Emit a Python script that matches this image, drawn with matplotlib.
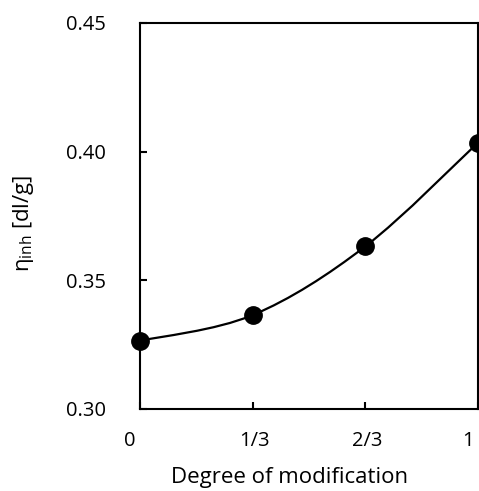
import numpy as np
import matplotlib
matplotlib.use("Agg")
import matplotlib.pyplot as plt
from matplotlib.path import Path
from matplotlib.patches import PathPatch
from matplotlib.transforms import ScaledTranslation

plt.rcParams['font.family'] = ['Open Sans', 'DejaVu Sans']
plt.rcParams['mathtext.fontset'] = 'custom'
plt.rcParams['mathtext.rm'] = 'Open Sans'
plt.rcParams['mathtext.it'] = 'Open Sans'

degree = [0, 1/3, 2/3, 1]
degree_labels = ["0", "1/3", "2/3", "1"]
eta_inh = [0.3265, 0.3365, 0.3632, 0.4035]
y_ticks = [0.30, 0.35, 0.40, 0.45]


def smooth_path(x, y):
    # excel-like smoothed line: catmull-rom turned into cubic bezier segments
    pts = np.column_stack([x, y])
    p = np.vstack([pts[0], pts, pts[-1]])
    verts = [pts[0]]
    codes = [Path.MOVETO]
    for i in range(1, len(p) - 2):
        c1 = p[i] + (p[i + 1] - p[i - 1]) / 6
        c2 = p[i + 1] - (p[i + 2] - p[i]) / 6
        verts += [c1, c2, p[i + 1]]
        codes += [Path.CURVE4] * 3
    return Path(verts, codes)


fig = plt.figure(figsize=(4.79, 4.91), dpi=100)
ax = fig.add_axes([140/479, 82/491, 338/479, 386/491])

ax.add_patch(PathPatch(smooth_path(degree, eta_inh), facecolor="none",
                       edgecolor="black", lw=1.6, zorder=2))
ax.plot(degree, eta_inh, "o", color="black", markersize=12.5, zorder=3, clip_on=False)

ax.set_xlim(0, 1)
ax.set_ylim(0.30, 0.45)
ax.set_xticks(degree)
ax.set_xticklabels(degree_labels)
ax.set_yticks(y_ticks)
ax.set_yticklabels(["%.2f" % v for v in y_ticks])

for s in ax.spines.values():
    s.set_linewidth(1.5)

ax.tick_params(direction="in", length=5, width=1.5, labelsize=14.5)
ax.tick_params(axis="x", pad=16)
ax.tick_params(axis="y", pad=24.5)

shifts = [-10, 2, 2, -10]
for lab, dx in zip(ax.get_xticklabels(), shifts):
    lab.set_transform(lab.get_transform() + ScaledTranslation(dx/100, 0, fig.dpi_scale_trans))

fig.text(290/479, 1 - 478/491, "Degree of modification", ha="center", va="center", fontsize=16)
fig.text(24/479, 1 - 223/491, r"$\eta_{\mathrm{inh}}$ [dl/g]", ha="center", va="center",
         rotation=90, fontsize=16)

fig.savefig("out.png", dpi=100)
